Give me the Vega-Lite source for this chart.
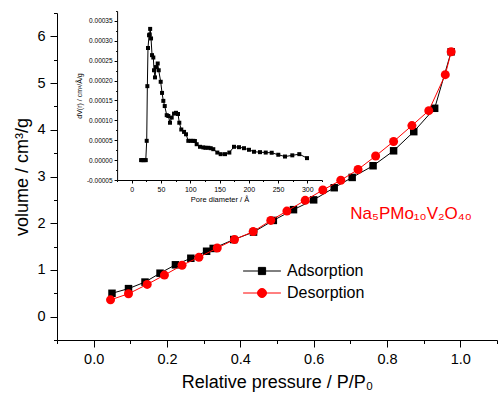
{
  "$schema": "https://vega.github.io/schema/vega-lite/v6.json",
  "width": 440,
  "height": 327,
  "autosize": {"type": "none"},
  "padding": {"left": 57, "top": 13, "right": 1, "bottom": 58},
  "background": "white",
  "config": {
    "view": {"stroke": null},
    "axis": {
      "grid": false,
      "domainColor": "black",
      "tickColor": "black",
      "labelColor": "black",
      "titleColor": "black",
      "titleFontWeight": "normal",
      "labelFont": "Liberation Sans",
      "titleFont": "Liberation Sans",
      "domainWidth": 1,
      "tickWidth": 1,
      "labelFlush": false,
      "labelOverlap": false
    },
    "legend": {"labelFont": "Liberation Sans"}
  },
  "datasets": {
    "adsorption": [
      {"p": 0.050, "v": 0.50}, {"p": 0.095, "v": 0.60}, {"p": 0.140, "v": 0.74},
      {"p": 0.181, "v": 0.93}, {"p": 0.223, "v": 1.11}, {"p": 0.265, "v": 1.25},
      {"p": 0.308, "v": 1.40}, {"p": 0.326, "v": 1.46}, {"p": 0.382, "v": 1.65},
      {"p": 0.436, "v": 1.81}, {"p": 0.490, "v": 2.06}, {"p": 0.545, "v": 2.29},
      {"p": 0.600, "v": 2.50}, {"p": 0.656, "v": 2.76}, {"p": 0.705, "v": 2.98},
      {"p": 0.762, "v": 3.23}, {"p": 0.818, "v": 3.55}, {"p": 0.873, "v": 3.96},
      {"p": 0.930, "v": 4.46}, {"p": 0.975, "v": 5.67}
    ],
    "desorption": [
      {"p": 0.046, "v": 0.36}, {"p": 0.095, "v": 0.49}, {"p": 0.146, "v": 0.69},
      {"p": 0.193, "v": 0.89}, {"p": 0.241, "v": 1.10}, {"p": 0.287, "v": 1.27},
      {"p": 0.337, "v": 1.47}, {"p": 0.384, "v": 1.65}, {"p": 0.435, "v": 1.82},
      {"p": 0.483, "v": 2.06}, {"p": 0.527, "v": 2.26}, {"p": 0.577, "v": 2.49},
      {"p": 0.625, "v": 2.71}, {"p": 0.674, "v": 2.92}, {"p": 0.721, "v": 3.15},
      {"p": 0.769, "v": 3.44}, {"p": 0.818, "v": 3.75}, {"p": 0.868, "v": 4.09},
      {"p": 0.914, "v": 4.41}, {"p": 0.959, "v": 5.18}, {"p": 0.975, "v": 5.67}
    ],
    "pore": [
      {"d": 16, "dv": 0}, {"d": 18, "dv": 0}, {"d": 20, "dv": 0}, {"d": 22, "dv": 0}, {"d": 24, "dv": 0},
      {"d": 25.6, "dv": 0.0000485}, {"d": 26.7, "dv": 0.000186}, {"d": 27.8, "dv": 0.000282},
      {"d": 29.6, "dv": 0.000314}, {"d": 30.7, "dv": 0.000316}, {"d": 31.5, "dv": 0.00033},
      {"d": 33, "dv": 0.000306}, {"d": 34.7, "dv": 0.000264}, {"d": 36.9, "dv": 0.000258},
      {"d": 38.1, "dv": 0.000226}, {"d": 39.8, "dv": 0.000208}, {"d": 41.5, "dv": 0.000234},
      {"d": 44.4, "dv": 0.000243}, {"d": 46.1, "dv": 0.000226}, {"d": 49.5, "dv": 0.000197},
      {"d": 51.8, "dv": 0.000169}, {"d": 54, "dv": 0.000149}, {"d": 56.4, "dv": 0.000136},
      {"d": 59.8, "dv": 0.000113}, {"d": 62.5, "dv": 0.000111}, {"d": 65.4, "dv": 0.000094},
      {"d": 68.3, "dv": 0.000107}, {"d": 72.3, "dv": 0.000117}, {"d": 75.7, "dv": 0.000119},
      {"d": 79.1, "dv": 0.000116}, {"d": 81.3, "dv": 0.000094}, {"d": 84.7, "dv": 0.000077},
      {"d": 89.4, "dv": 0.000071}, {"d": 92.8, "dv": 0.000065}, {"d": 96.7, "dv": 0.0000485},
      {"d": 100.8, "dv": 0.0000485}, {"d": 105.3, "dv": 0.0000485}, {"d": 108, "dv": 0.000048},
      {"d": 111, "dv": 0.00004}, {"d": 116.7, "dv": 0.0000335}, {"d": 122.4, "dv": 0.000032},
      {"d": 126, "dv": 0.000031}, {"d": 130.9, "dv": 0.000031}, {"d": 135, "dv": 0.00003},
      {"d": 139.4, "dv": 0.0000275}, {"d": 146.3, "dv": 0.000019}, {"d": 152, "dv": 0.000015},
      {"d": 159.4, "dv": 0.000015}, {"d": 166.8, "dv": 0.000019}, {"d": 174.8, "dv": 0.0000335},
      {"d": 183.3, "dv": 0.0000325}, {"d": 191.9, "dv": 0.00003}, {"d": 200.4, "dv": 0.000026},
      {"d": 209, "dv": 0.000021}, {"d": 219.2, "dv": 0.00002}, {"d": 229, "dv": 0.000019},
      {"d": 239.2, "dv": 0.0000185}, {"d": 250.5, "dv": 0.0000135}, {"d": 261.9, "dv": 0.000009},
      {"d": 274.4, "dv": 0.000012}, {"d": 286.4, "dv": 0.000015}, {"d": 299.5, "dv": 0.000005}
    ],
    "legendEntries": [{"series": "Adsorption"}, {"series": "Desorption"}],
    "annotation": [{"p": 0.70, "v": 2.10, "text": "Na₅PMo₁₀V₂O₄₀"}]
  },
  "layer": [
    {
      "encoding": {
        "x": {
          "field": "p", "type": "quantitative",
          "scale": {"domain": [-0.1, 1.1], "nice": false, "zero": false},
          "axis": {
            "title": "Relative pressure / P/P₀",
            "titleFontSize": 18,
            "labelFontSize": 14.5,
            "labelPadding": 5,
            "titlePadding": 8,
            "values": [-0.1, 0, 0.1, 0.2, 0.3, 0.4, 0.5, 0.6, 0.7, 0.8, 0.9, 1.0, 1.1],
            "labelExpr": "round(datum.value*10) % 2 != 0 ? '' : format(datum.value, '.1f')",
            "tickSize": {"condition": {"test": "round(datum.value*10) % 2 != 0", "value": 3.5}, "value": 7}
          }
        },
        "y": {
          "field": "v", "type": "quantitative",
          "scale": {"domain": [-0.5, 6.5], "nice": false, "zero": false},
          "axis": {
            "title": "volume / cm³/g",
            "titleFontSize": 18,
            "labelFontSize": 14.5,
            "labelPadding": 5,
            "titlePadding": 5,
            "values": [-0.5, 0, 0.5, 1, 1.5, 2, 2.5, 3, 3.5, 4, 4.5, 5, 5.5, 6, 6.5],
            "labelExpr": "round(datum.value*2) % 2 != 0 ? '' : format(datum.value, 'd')",
            "tickSize": {"condition": {"test": "round(datum.value*2) % 2 != 0", "value": 3.5}, "value": 7}
          }
        }
      },
      "layer": [
        {"data": {"name": "adsorption"}, "mark": {"type": "line", "color": "black", "strokeWidth": 1}},
        {"data": {"name": "adsorption"}, "mark": {"type": "point", "shape": "square", "filled": true, "color": "black", "size": 56, "opacity": 1}},
        {"data": {"name": "desorption"}, "mark": {"type": "line", "color": "#ff0000", "strokeWidth": 1}},
        {"data": {"name": "desorption"}, "mark": {"type": "point", "shape": "circle", "filled": true, "color": "#ff0000", "size": 81, "opacity": 1}},
        {
          "data": {"name": "legendEntries"},
          "transform": [{"filter": "false"}],
          "mark": {"type": "point", "filled": true, "opacity": 1, "strokeWidth": 1},
          "encoding": {
            "x": {"value": 0}, "y": {"value": 0},
            "shape": {
              "field": "series", "type": "nominal",
              "scale": {"domain": ["Adsorption", "Desorption"], "range": ["M-4.2,0H4.2M-0.8,-0.8H0.8V0.8H-0.8Z", "M-4.2,0H4.2M1,0A1,1,0,1,1,-1,0A1,1,0,1,1,1,0Z"]},
              "legend": {"orient": "none", "legendX": 197, "legendY": 250, "title": null, "labelFontSize": 16, "labelColor": "black", "symbolSize": 81, "symbolStrokeWidth": 1, "labelOffset": 17, "rowPadding": 6, "padding": 0}
            },
            "fill": {
              "field": "series", "type": "nominal",
              "scale": {"domain": ["Adsorption", "Desorption"], "range": ["black", "#ff0000"]},
              "legend": {"orient": "none", "legendX": 197, "legendY": 250, "title": null, "labelFontSize": 16, "labelColor": "black", "symbolSize": 81, "symbolStrokeWidth": 1, "labelOffset": 17, "rowPadding": 6, "padding": 0}
            },
            "stroke": {
              "field": "series", "type": "nominal",
              "scale": {"domain": ["Adsorption", "Desorption"], "range": ["black", "#ff0000"]},
              "legend": {"orient": "none", "legendX": 197, "legendY": 250, "title": null, "labelFontSize": 16, "labelColor": "black", "symbolSize": 81, "symbolStrokeWidth": 1, "labelOffset": 17, "rowPadding": 6, "padding": 0}
            }
          }
        },
        {
          "data": {"name": "annotation"},
          "mark": {"type": "text", "align": "left", "baseline": "alphabetic", "color": "#ff0000", "fontSize": 17, "font": "Liberation Sans"},
          "encoding": {"text": {"field": "text"}}
        }
      ]
    },
    {
      "data": {"name": "pore"},
      "encoding": {
        "x": {
          "field": "d", "type": "quantitative",
          "scale": {"domain": [-25, 325], "range": [60.1, 264.9], "nice": false, "zero": false},
          "axis": {
            "orient": "bottom",
            "offset": -160,
            "title": "Pore diameter / Å",
            "titleFontSize": 7.5,
            "labelFontSize": 7,
            "labelPadding": 2,
            "titlePadding": 3,
            "values": [-25, 0, 25, 50, 75, 100, 125, 150, 175, 200, 225, 250, 275, 300, 325],
            "labelExpr": "datum.value % 50 == 0 && datum.value >= 0 && datum.value <= 300 ? format(datum.value, 'd') : ''",
            "tickSize": {"condition": {"test": "datum.value % 50 != 0", "value": 1.5}, "value": 3}
          }
        },
        "y": {
          "field": "dv", "type": "quantitative",
          "scale": {"domain": [-0.00005, 0.000375], "range": [167, -2], "nice": false, "zero": false},
          "axis": {
            "orient": "left",
            "offset": -60.1,
            "title": "dV(r) / cm³/Å/g",
            "titleFontSize": 7,
            "labelFontSize": 6.5,
            "labelPadding": 2,
            "titlePadding": 4,
            "values": [-0.00005, -0.000025, 0, 0.000025, 0.00005, 0.000075, 0.0001, 0.000125, 0.00015, 0.000175, 0.0002, 0.000225, 0.00025, 0.000275, 0.0003, 0.000325, 0.00035, 0.000375],
            "labelExpr": "abs(round(datum.value*40000)) % 2 == 1 ? '' : replace(format(datum.value, '.5f'), '−', '-')",
            "tickSize": {"condition": {"test": "abs(round(datum.value*40000)) % 2 == 1", "value": 1.5}, "value": 3}
          }
        }
      },
      "layer": [
        {"mark": {"type": "line", "color": "black", "strokeWidth": 1}},
        {"mark": {"type": "point", "shape": "square", "filled": true, "color": "black", "size": 16, "opacity": 1}}
      ]
    }
  ],
  "resolve": {"scale": {"x": "independent", "y": "independent"}}
}
